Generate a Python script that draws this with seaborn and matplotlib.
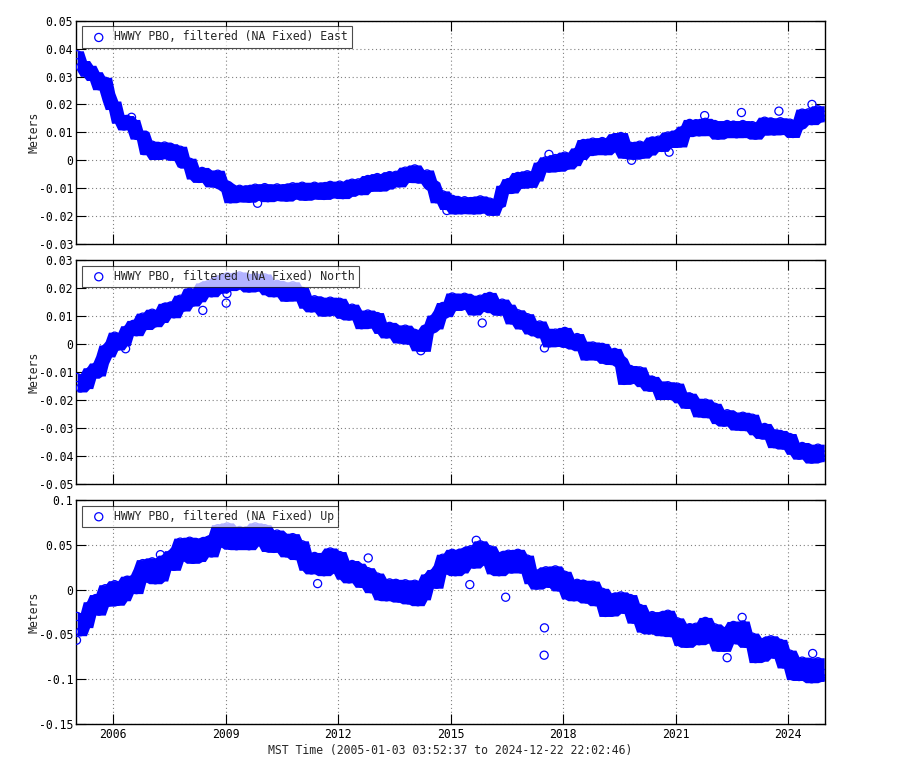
import numpy as np
import pandas as pd
import matplotlib
matplotlib.use("Agg")
import matplotlib.pyplot as plt
from matplotlib.ticker import FixedLocator, FuncFormatter
import seaborn as sns

station = "HWWY PBO, filtered (NA Fixed)"
components = ["East", "North", "Up"]
start_time = "2005-01-03 03:52:37"
end_time = "2024-12-22 22:02:46"
year_ticks = [2006, 2009, 2012, 2015, 2018, 2021, 2024]

# monthly readings (mm), Jan 2005 .. Dec 2024, one row per year
east_mm = [
    37.8, 33.4, 34.3, 31.5, 32.6, 30.0, 30.3, 26.7, 28.2, 28.3, 22.8, 19.6,
    19.8, 14.7, 15.0, 12.3, 14.6, 12.5, 13.2, 9.0, 9.4, 8.8, 3.6, 3.4,
    5.4, 1.7, 3.5, 2.0, 5.1, 3.4, 4.5, 1.4, 3.4, 3.6, -0.9, -1.4,
    -0.7, -5.3, -4.2, -6.5, -4.0, -5.9, -4.9, -8.1, -6.1, -5.0, -8.4, -8.9,
    -9.7, -13.8, -12.0, -13.5, -10.4, -11.9, -10.6, -13.6, -11.4, -10.0, -12.9, -12.1,
    -9.8, -13.4, -11.5, -13.0, -9.9, -11.4, -10.2, -13.2, -10.9, -9.5, -12.4, -11.6,
    -9.3, -12.9, -11.0, -12.5, -9.3, -10.9, -9.6, -12.6, -10.4, -9.0, -12.0, -11.2,
    -8.9, -12.3, -10.3, -11.5, -8.2, -9.5, -8.1, -10.9, -8.5, -6.9, -9.7, -8.6,
    -6.2, -9.6, -7.6, -8.9, -5.5, -6.8, -5.4, -8.1, -5.6, -3.9, -6.5, -5.4,
    -3.1, -6.6, -4.9, -6.8, -4.9, -8.5, -9.3, -13.8, -13.0, -12.4, -16.2, -16.0,
    -14.0, -17.8, -16.2, -17.7, -14.5, -16.0, -14.8, -17.8, -15.6, -14.2, -17.4, -16.9,
    -15.0, -18.3, -15.5, -15.0, -10.4, -10.5, -8.0, -10.3, -7.6, -5.8, -8.6, -7.6,
    -5.2, -8.3, -5.5, -6.0, -2.1, -2.5, -0.2, -2.8, -0.7, 0.6, -2.5, -1.2,
    1.5, -1.7, 0.5, -0.5, 3.0, 1.7, 6.0, 3.1, 5.2, 6.5, 3.4, 4.3,
    6.7, 3.4, 5.5, 4.4, 8.1, 7.0, 8.5, 2.2, 3.9, 5.0, 1.8, 2.8,
    5.4, 2.2, 4.3, 3.3, 6.9, 5.6, 7.2, 4.6, 7.1, 8.7, 6.0, 7.0,
    9.4, 6.2, 10.8, 9.9, 13.2, 11.8, 13.1, 10.2, 12.4, 13.6, 10.3, 10.8,
    12.8, 9.0, 10.9, 9.5, 12.8, 11.3, 12.6, 9.5, 11.5, 12.8, 9.6, 10.3,
    12.4, 9.0, 11.3, 10.4, 14.0, 12.6, 13.7, 10.5, 12.5, 13.8, 10.7, 11.3,
    13.3, 9.6, 12.5, 13.0, 16.9, 15.6, 17.0, 14.2, 16.6, 18.1, 15.2, 16.1,
]
north_mm = [
    -12.0, -15.7, -13.4, -14.5, -9.9, -10.8, -8.2, -10.0, -5.6, -1.8, -3.2, -0.4,
    2.8, -0.7, 1.9, 0.8, 5.1, 4.5, 7.0, 4.4, 7.4, 9.6, 6.6, 8.1,
    11.0, 7.6, 10.2, 9.1, 13.1, 11.8, 13.6, 10.8, 13.8, 16.0, 13.2, 15.1,
    18.5, 15.0, 17.6, 16.5, 20.4, 19.2, 21.2, 18.3, 21.1, 22.9, 19.6, 21.1,
    24.0, 20.5, 22.7, 21.0, 24.3, 22.4, 23.6, 20.0, 22.3, 23.8, 20.4, 21.4,
    23.6, 19.0, 20.5, 18.3, 21.3, 19.0, 20.2, 16.7, 19.2, 20.8, 16.9, 17.1,
    18.8, 14.2, 15.4, 12.9, 15.8, 13.6, 14.8, 11.4, 13.8, 15.3, 11.8, 12.6,
    14.9, 10.6, 12.2, 10.0, 12.8, 10.0, 10.6, 6.9, 9.2, 10.7, 7.2, 7.9,
    9.8, 5.2, 6.3, 3.6, 6.3, 4.2, 5.4, 1.8, 4.1, 5.3, 1.4, 1.9,
    3.8, -1.0, 0.2, -1.2, 5.3, 5.8, 8.9, 6.8, 10.6, 13.4, 11.2, 13.4,
    16.8, 13.4, 15.8, 13.8, 16.7, 14.2, 15.3, 11.8, 14.2, 16.0, 13.1, 14.5,
    17.0, 12.6, 14.0, 11.7, 14.6, 12.0, 12.8, 8.6, 9.9, 10.8, 6.8, 7.4,
    9.4, 5.0, 6.5, 4.3, 6.8, 3.6, 4.2, 0.4, 2.5, 3.9, 0.6, 1.9,
    4.5, 0.2, 1.8, -0.4, 2.3, -1.0, -0.4, -4.3, -2.1, -0.7, -4.3, -3.4,
    -1.2, -5.5, -3.8, -5.9, -3.0, -5.6, -6.6, -13.0, -10.6, -9.1, -12.6, -11.8,
    -9.6, -13.8, -12.5, -15.3, -13.0, -15.5, -14.6, -18.4, -16.3, -14.9, -18.4, -17.6,
    -15.4, -19.6, -18.5, -21.5, -19.0, -21.6, -20.8, -24.6, -22.5, -21.1, -24.9, -24.6,
    -22.6, -27.0, -25.6, -27.9, -24.9, -27.0, -25.7, -29.3, -27.1, -25.8, -29.5, -28.8,
    -26.5, -31.0, -29.8, -32.3, -29.8, -32.6, -31.7, -35.6, -33.6, -32.3, -36.1, -35.5,
    -33.4, -38.0, -37.0, -39.7, -36.6, -38.7, -37.6, -41.1, -38.8, -37.2, -40.6, -39.7,
]
up_mm = [
    -30, -47, -33, -38, -18, -22, -10, -24, -9, 1, -14, -7.5,
    5.5, -13, -1.5, -8, 10.5, 3, 11.5, 0, 19, 29, 13, 19,
    31, 11, 21.5, 14, 34, 29, 39, 26, 43, 53, 36.5, 41.8,
    54, 33.8, 43.5, 35.8, 53, 46, 55, 41, 57, 68, 52, 57.5,
    70, 49.5, 58, 49, 66, 57.5, 65.5, 49, 61.5, 70, 53.5, 57,
    68, 47, 55, 46, 62, 52, 58.5, 41, 52, 58, 38, 41,
    50, 26, 33, 22, 37, 26.5, 34.5, 20, 34.5, 42, 23, 26.5,
    38, 16, 23, 12, 28, 18.5, 25, 7, 16, 20, 1, 4,
    14, -7, 1.5, -8, 7.5, -1, 7, -9.5, 1, 6.5, -11.5, -6.5,
    6, -13.5, -2, -7, 13, 7, 18, 6, 23, 35, 22, 29,
    40.5, 20, 30.5, 23, 42, 36, 44.5, 28.5, 41.5, 50, 32, 34.5,
    44.5, 22, 30, 20, 37.5, 30, 39.5, 23, 34, 40.5, 23, 26,
    34, 11, 17, 5, 18, 10, 21, 7, 17, 22, 3, 6,
    16, -6, 2.5, -8, 7, -2.5, 6, -10.5, 0, 5, -13.5, -11,
    -3, -25.5, -16.5, -25, -8.5, -16, -7, -22, -12, -10, -33, -31,
    -21, -43, -35.5, -45, -29, -38.5, -31, -47, -34, -27.5, -48, -46.5,
    -36, -58, -51, -60, -42.5, -50, -42, -57, -43.5, -35.5, -55, -53,
    -42.7, -64, -55.5, -64.5, -46, -51, -40, -56, -45.5, -39.5, -60, -60,
    -53, -77, -67.5, -75.5, -58.5, -66, -56, -72, -63, -60, -83, -81,
    -72, -96, -88.5, -97, -79.8, -88.8, -82, -99.5, -88, -80.5, -98, -93.7,
]

# isolated points read separately
east_out_dates = ["2006-06-28", "2009-11-06", "2014-11-24", "2017-08-14", "2019-10-27",
                  "2020-10-27", "2021-10-08", "2022-10-01", "2023-10-01", "2024-08-18"]
east_out_mm = [15.4, -15.4, -18.0, 2.1, 0.0, 2.9, 16.0, 17.1, 17.6, 20.0]
north_out_dates = ["2006-05-01", "2008-05-22", "2009-01-05", "2009-01-12", "2014-03-15",
                   "2015-11-03", "2017-07-01"]
north_out_mm = [-1.7, 12.0, 14.6, 18.0, -2.4, 7.5, -1.4]
up_out_dates = ["2005-01-08", "2007-04-05", "2011-06-14", "2012-10-19", "2015-07-05",
                "2015-09-06", "2016-06-18", "2017-07-01", "2017-06-28", "2022-05-15",
                "2022-10-08", "2024-08-25"]
up_out_mm = [-56.5, 39, 6.7, 35.3, 5.6, 55, -8.5, -42.7, -73.2, -76, -31, -71.3]

east_yticks = [0.05, 0.04, 0.03, 0.02, 0.01, 0, -0.01, -0.02, -0.03]
north_yticks = [0.03, 0.02, 0.01, 0, -0.01, -0.02, -0.03, -0.04, -0.05]
up_yticks = [0.1, 0.05, 0, -0.05, -0.1, -0.15]

month_dates = pd.date_range("2005-01-01", periods=len(east_mm), freq="MS") + pd.Timedelta(days=14)

series = {
    "East": (east_mm, east_out_dates, east_out_mm, east_yticks),
    "North": (north_mm, north_out_dates, north_out_mm, north_yticks),
    "Up": (up_mm, up_out_dates, up_out_mm, up_yticks),
}

sns.set_theme(style="white")
mono = "DejaVu Sans Mono"
plt.rcParams["font.family"] = [mono, "DejaVu Sans"]
plt.rcParams["axes.unicode_minus"] = False
fs = 8.3

fig = plt.figure(figsize=(9, 7.8), dpi=100)
fig.patch.set_facecolor("white")
rects = [
    [76 / 900, 1 - 244 / 780, 749 / 900, 223.3 / 780],
    [76 / 900, 1 - 484 / 780, 749 / 900, 224 / 780],
    [76 / 900, 1 - 724 / 780, 749 / 900, 224 / 780],
]
blue = "#0000ff"
fmt = FuncFormatter(lambda v, p: "%g" % round(v, 4))
pad_px = 4.0  # marker radius, in pixels, so the dense body reaches the ring edges

for i, comp in enumerate(components):
    vals, od, ov, yt = series[comp]
    monthly = pd.Series(np.array(vals) / 1000.0, index=month_dates)
    df = pd.DataFrame({
        "date": list(month_dates) + list(pd.to_datetime(od)),
        "m": list(monthly.values) + list(np.array(ov) / 1000.0),
    })
    ax = fig.add_axes(rects[i])
    ax.set_facecolor("white")
    ymin, ymax = min(yt), max(yt)
    pad = pad_px / (rects[i][3] * 780) * (ymax - ymin)
    # dense body of the point cloud: span covered by neighbouring readings
    hi = monthly.rolling(5, center=True, min_periods=1).max() + pad
    lo = monthly.rolling(5, center=True, min_periods=1).min() - pad
    ax.fill_between(month_dates, lo.values, hi.values, color=blue, linewidth=0, zorder=2)
    sns.scatterplot(data=df, x="date", y="m", ax=ax, marker="o", s=34,
                    facecolors="none", edgecolor=blue, linewidth=0.9,
                    label=f"{station} {comp}", zorder=3)
    for coll in ax.collections[1:]:
        coll.set_facecolor("none")
        coll.set_edgecolor(blue)
    ax.set_xlim(pd.Timestamp(start_time), pd.Timestamp(end_time))
    ax.set_ylim(ymin, ymax)
    ax.yaxis.set_major_locator(FixedLocator(yt))
    ax.yaxis.set_major_formatter(fmt)
    xt = [pd.Timestamp(f"{y}-01-01") for y in year_ticks]
    ax.set_xticks(xt)
    if i == len(components) - 1:
        ax.set_xticklabels([str(y) for y in year_ticks])
        ax.set_xlabel(f"MST Time ({start_time} to {end_time})", fontsize=fs,
                      family=mono, labelpad=2)
    else:
        ax.set_xticklabels([])
        ax.set_xlabel("")
    ax.set_ylabel("Meters", fontsize=fs, family=mono)
    ax.yaxis.set_label_coords(-0.048, 0.5)
    ax.tick_params(direction="in", length=7, width=0.8, top=True, right=True,
                   bottom=True, left=True, labelsize=fs, colors="black", pad=3)
    ax.tick_params(axis="y", pad=2)
    ax.grid(True, linestyle=(0, (1, 2.5)), color="#808080", linewidth=0.8)
    ax.set_axisbelow(True)
    for sp in ax.spines.values():
        sp.set_color("black")
        sp.set_linewidth(1.0)
        sp.set_visible(True)
    leg = ax.legend(loc="upper left", frameon=True, fancybox=False, edgecolor="black",
                    framealpha=0.7, borderpad=0.35, handlelength=2.25, handletextpad=0.2,
                    borderaxespad=0.5, prop={"family": mono, "size": fs}, markerscale=1.0)
    leg.get_frame().set_linewidth(0.8)
    leg.set_zorder(5)

fig.savefig("out.png", dpi=100, facecolor="white")
